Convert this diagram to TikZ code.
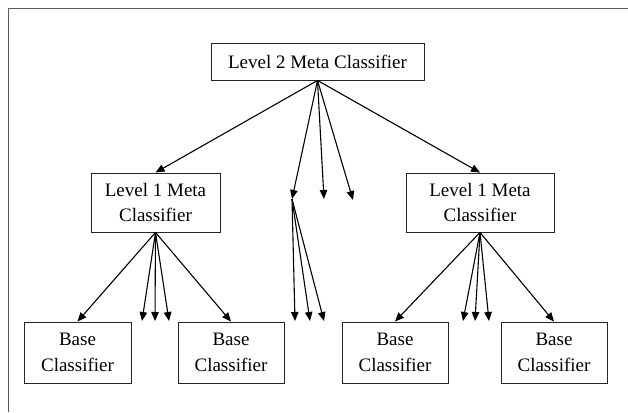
\documentclass[tikz,border=0pt]{standalone}
\usepackage{fontspec}
\setmainfont{Liberation Serif}
\usetikzlibrary{arrows.meta}
\begin{document}
\begin{tikzpicture}[x=1pt,y=-1pt,
  box/.style={draw=black!85,line width=0.9pt,rectangle,inner sep=0pt,align=center,
    font=\fontsize{19}{25.5}\selectfont},
  arr/.style={line width=1.1pt,-{Triangle[length=9pt,width=7.5pt]}},
  frame/.style={draw=black!65,line width=1.6pt}]
\useasboundingbox (0,0) rectangle (628,412);
\draw[frame] (8.5,412) -- (8.5,8.5) -- (628,8.5);
% nodes
\node[box,minimum width=213pt,minimum height=37pt] (top) at (317.5,61.5) {Level 2 Meta Classifier};
\node[box,minimum width=129pt,minimum height=59pt] (ml) at (155.5,202.5) {Level 1 Meta\\Classifier};
\node[box,minimum width=148pt,minimum height=59pt] (mr) at (480,202.5) {Level 1 Meta\\Classifier};
\node[box,minimum width=107pt,minimum height=61pt] (b1) at (77.5,352.5) {Base\\Classifier};
\node[box,minimum width=106pt,minimum height=61pt] (b2) at (231,352.5) {Base\\Classifier};
\node[box,minimum width=106pt,minimum height=61pt] (b3) at (395,352.5) {Base\\Classifier};
\node[box,minimum width=106pt,minimum height=61pt] (b4) at (554,352.5) {Base\\Classifier};
% free ends
\coordinate (hub) at (292,199);
\coordinate (t2) at (324,199);
\coordinate (t3) at (353,200);
\coordinate (h1) at (295,321);
\coordinate (h2) at (310,321);
\coordinate (h3) at (324,321);
\coordinate (l1) at (142,321);
\coordinate (l2) at (155,321);
\coordinate (l3) at (169,321);
\coordinate (r1) at (463,321);
\coordinate (r2) at (475,321);
\coordinate (r3) at (489,321);
% top level
\draw[arr] (top.south) -- (ml.north);
\draw[arr] (top.south) -- (mr.north);
\draw[arr] (top.south) -- (hub);
\draw[arr] (top.south) -- (t2);
\draw[arr] (top.south) -- (t3);
% middle hub
\draw[arr] (hub) -- (h1);
\draw[arr] (hub) -- (h2);
\draw[arr] (hub) -- (h3);
% left meta
\draw[arr] (ml.south) -- (b1.north);
\draw[arr] (ml.south) -- (b2.north);
\draw[arr] (ml.south) -- (l1);
\draw[arr] (ml.south) -- (l2);
\draw[arr] (ml.south) -- (l3);
% right meta
\draw[arr] (mr.south) -- (b3.north);
\draw[arr] (mr.south) -- (b4.north);
\draw[arr] (mr.south) -- (r1);
\draw[arr] (mr.south) -- (r2);
\draw[arr] (mr.south) -- (r3);
\end{tikzpicture}
\end{document}
